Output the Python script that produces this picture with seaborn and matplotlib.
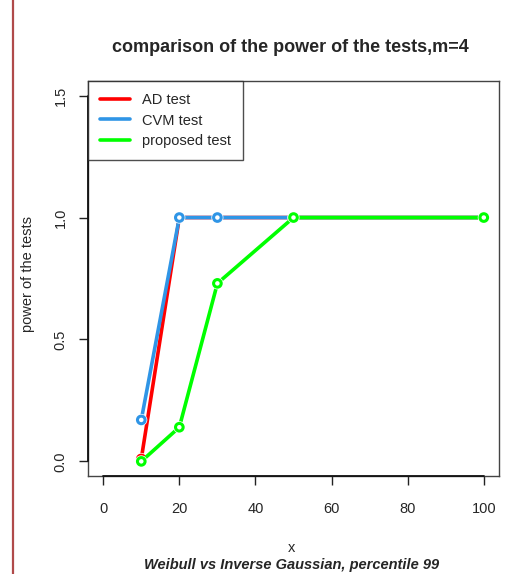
import matplotlib
matplotlib.use("Agg")
import matplotlib.pyplot as plt
import matplotlib.patheffects as pe
from matplotlib.lines import Line2D
import seaborn as sns
import pandas as pd

# sample sizes and estimated power of each test
sample_size = [10, 20, 30, 50, 100]
ad_power = [0.01, 1.0, 1.0, 1.0, 1.0]
cvm_power = [0.17, 1.0, 1.0, 1.0, 1.0]
proposed_power = [0.0, 0.14, 0.73, 1.0, 1.0]

series_names = ["AD test", "CVM test", "proposed test"]
series_colors = ["#ff0000", "#2f95e6", "#00ff00"]

x_ticks = [0, 20, 40, 60, 80, 100]
y_ticks = [0.0, 0.5, 1.0, 1.5]
y_tick_labels = ["0.0", "0.5", "1.0", "1.5"]

df = pd.DataFrame({
    "x": sample_size * 3,
    "power": ad_power + cvm_power + proposed_power,
    "test": sum([[n] * len(sample_size) for n in series_names], []),
})

sns.set_style("white")
plt.rcParams["font.family"] = ["Liberation Sans", "DejaVu Sans"]
FS = 10.5

W, H = 529, 574
fig = plt.figure(figsize=(W / 100, H / 100), dpi=100)
ax = fig.add_axes([88 / W, 1 - 476 / H, 411 / W, 395 / H])

for i, (name, col) in enumerate(zip(series_names, series_colors)):
    sub = df[df["test"] == name]
    z = 3 + i * 2
    sns.lineplot(data=sub, x="x", y="power", color=col, lw=2.6, ax=ax,
                 zorder=z, legend=False)
    sns.scatterplot(data=sub, x="x", y="power", marker="o", s=30,
                    facecolor="white", edgecolor=col, linewidth=2.2, ax=ax,
                    zorder=z + 1, legend=False,
                    path_effects=[pe.withStroke(linewidth=3.2, foreground="white")])

ax.set_xlim(-4, 104)
ax.set_ylim(-0.06, 1.56)
ax.set_xticks(x_ticks)
ax.set_xticklabels([str(t) for t in x_ticks], fontsize=FS)
ax.set_yticks(y_ticks)
ax.set_yticklabels(y_tick_labels, fontsize=FS, rotation=90, va="center")
ax.tick_params(axis="both", direction="out", length=6.5, width=1.0,
               color="#222222", left=True, bottom=True)
ax.tick_params(axis="x", pad=12)
ax.tick_params(axis="y", pad=8)

for sp in ax.spines.values():
    sp.set_visible(True)
    sp.set_color("#444444")
    sp.set_linewidth(1.0)

# axis lines spanning the tick range
ax.add_line(Line2D([0, 100], [-0.06, -0.06], color="#111111", lw=1.3, clip_on=False, zorder=10))
ax.add_line(Line2D([-4, -4], [0, 1.5], color="#111111", lw=1.3, clip_on=False, zorder=10))

ax.set_xlabel("")
ax.set_ylabel("")
fig.text(290 / W, 1 - 47 / H, "comparison of the power of the tests,m=4",
         ha="center", va="center", fontsize=13, fontweight="bold")
fig.text(28 / W, 1 - 274 / H, "power of the tests", ha="center", va="center",
         rotation=90, fontsize=FS)
fig.text(292 / W, 1 - 548 / H, "x", ha="center", va="center", fontsize=FS)
fig.text(292 / W, 1 - 565 / H, "Weibull vs Inverse Gaussian, percentile 99",
         ha="center", va="center", fontsize=FS, fontweight="bold", style="italic")

handles = [Line2D([], [], color=c, lw=2.6) for c in series_colors]
leg = ax.legend(handles, series_names, loc="upper left", bbox_to_anchor=(0, 1),
                borderaxespad=0, fontsize=FS, frameon=True, fancybox=False,
                handlelength=2.0, handletextpad=0.85, labelspacing=0.42,
                borderpad=0.85)
leg.get_frame().set_edgecolor("#222222")
leg.get_frame().set_linewidth(1.0)
leg.set_zorder(20)

# thin margin rule on the left of the page
fig.add_artist(Line2D([13 / W, 13 / W], [0, 1], color="#b04a4a", lw=1.6,
                      transform=fig.transFigure))

fig.savefig("out.png", dpi=100)
